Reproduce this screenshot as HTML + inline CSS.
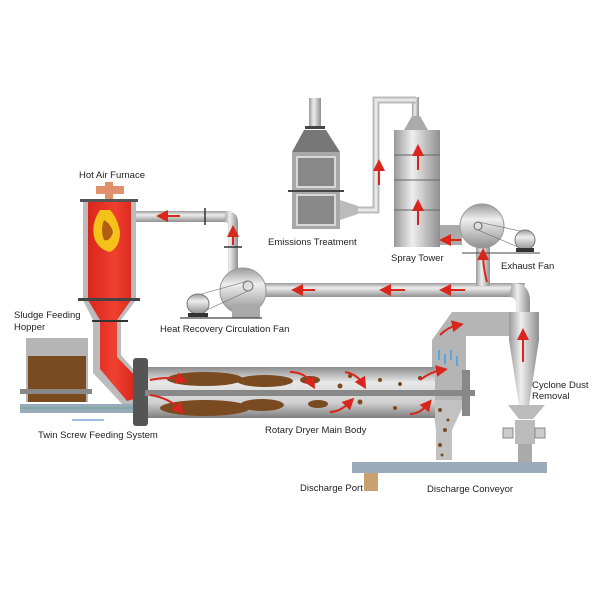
<!DOCTYPE html>
<html><head><meta charset="utf-8"><style>
html,body{margin:0;padding:0;background:#fff}
svg{display:block}
text{font-family:"Liberation Sans",sans-serif;font-size:9.5px;fill:#222}
</style></head><body>
<svg width="600" height="600" viewBox="0 0 600 600" xmlns="http://www.w3.org/2000/svg">
<defs>
<linearGradient id="pv" x1="0" y1="0" x2="0" y2="1"><stop offset="0" stop-color="#9a9a9a"/><stop offset=".35" stop-color="#eee"/><stop offset="1" stop-color="#8f8f8f"/></linearGradient>
<linearGradient id="ph" x1="0" y1="0" x2="1" y2="0"><stop offset="0" stop-color="#999"/><stop offset=".4" stop-color="#eee"/><stop offset="1" stop-color="#8f8f8f"/></linearGradient>
<linearGradient id="dr" x1="0" y1="0" x2="0" y2="1"><stop offset="0" stop-color="#8c8c8c"/><stop offset=".3" stop-color="#e8e8e8"/><stop offset=".7" stop-color="#d0d0d0"/><stop offset="1" stop-color="#7f7f7f"/></linearGradient>
<linearGradient id="red" x1="0" y1="0" x2="1" y2="0"><stop offset="0" stop-color="#d8261c"/><stop offset=".5" stop-color="#f04030"/><stop offset="1" stop-color="#d02018"/></linearGradient>
<marker id="ah" markerWidth="6" markerHeight="6" refX="3" refY="3" orient="auto"><path d="M0 0 L6 3 L0 6z" fill="#d8261c"/></marker>
</defs>

<!-- long duct -->
<rect x="255" y="283" width="270" height="14" fill="url(#pv)"/>
<path d="M512 283 q18 0 18 18 v25 h-14 v-22 q0-7-7-7z" fill="url(#ph)"/>
<rect x="476" y="240" width="14" height="46" fill="url(#ph)"/>
<rect x="130" y="211" width="100" height="11" fill="url(#pv)"/>
<path d="M226 211 q12 0 12 12 v50 h-10 v-48 q0-3-4-3z" fill="url(#ph)"/>
<line x1="205" y1="208" x2="205" y2="225" stroke="#333" stroke-width="1.5"/>
<line x1="224" y1="247" x2="242" y2="247" stroke="#333" stroke-width="1.5"/>

<!-- heat recovery fan -->
<circle cx="243" cy="291" r="23" fill="url(#pv)" stroke="#999"/>
<rect x="232" y="305" width="28" height="13" fill="#aaa"/>
<circle cx="248" cy="286" r="5" fill="#ddd" stroke="#777"/>
<line x1="248" y1="281" x2="198" y2="295" stroke="#666" stroke-width=".6"/>
<line x1="248" y1="291" x2="198" y2="314" stroke="#666" stroke-width=".6"/>
<ellipse cx="198" cy="304" rx="11" ry="10" fill="url(#pv)" stroke="#777"/>
<rect x="188" y="313" width="20" height="4" fill="#333"/>
<line x1="180" y1="318" x2="262" y2="318" stroke="#444" stroke-width="1.2"/>

<!-- furnace -->
<rect x="96" y="186" width="28" height="8" fill="#e0906a"/>
<rect x="105" y="182" width="8" height="18" fill="#e0906a"/>
<rect x="80" y="199" width="58" height="3" fill="#555"/>
<path d="M83 202 h53 v98 l-15 20 v35 l22 25 v25 l-20 0 l-30 -32 v-53 l-10 -20z" fill="#bbb"/>
<path d="M88 202 h43 v98 l-14 20 v37 l24 25 v15 l-14 4 l-27 -32 v-49 l-12 -20z" fill="url(#red)"/>
<path d="M100 210 q-10 15 -5 30 q5 10 15 12 q10 -5 10 -20 q-3 -15 -10 -22z" fill="#f5c21a"/>
<path d="M104 220 q-4 10 0 20 q6 2 9 -8 q-2 -8 -9 -12z" fill="#b35f10"/>
<rect x="78" y="298" width="62" height="3" fill="#444"/>
<rect x="92" y="320" width="36" height="2" fill="#333"/>

<!-- spray tower -->
<rect x="412" y="97" width="7" height="20" fill="url(#ph)"/>
<path d="M404 130 l8 -14 h8 l8 14z" fill="#aaa"/>
<rect x="394" y="130" width="46" height="117" fill="url(#ph)"/>
<g stroke="#666" stroke-width="1"><line x1="394" y1="155" x2="440" y2="155"/><line x1="394" y1="180" x2="440" y2="180"/><line x1="394" y1="210" x2="440" y2="210"/></g>
<rect x="440" y="225" width="22" height="20" fill="#aaa"/>
<path d="M416 100 h-40 v110 h-20" fill="none" stroke="#bbb" stroke-width="7"/>
<path d="M416 100 h-40 v110 h-20" fill="none" stroke="#e8e8e8" stroke-width="3"/>

<!-- emissions treatment -->
<rect x="309" y="98" width="12" height="30" fill="url(#ph)"/>
<rect x="305" y="126" width="20" height="3" fill="#444"/>
<path d="M292 152 l12 -22 h22 l14 22z" fill="#777"/>
<rect x="292" y="152" width="48" height="77" fill="#a8a8a8"/>
<rect x="297" y="157" width="38" height="30" fill="#888" stroke="#d8d8d8" stroke-width="2"/>
<rect x="297" y="195" width="38" height="30" fill="#888" stroke="#d8d8d8" stroke-width="2"/>
<rect x="288" y="190" width="56" height="2" fill="#444"/>
<path d="M340 200 l18 6 v8 l-18 6z" fill="#bbb"/>

<!-- exhaust fan -->
<circle cx="482" cy="226" r="22" fill="url(#pv)" stroke="#999"/>
<circle cx="478" cy="226" r="4" fill="#ddd" stroke="#666"/>
<line x1="478" y1="222" x2="525" y2="232" stroke="#666" stroke-width=".6"/>
<line x1="478" y1="230" x2="525" y2="250" stroke="#666" stroke-width=".6"/>
<ellipse cx="525" cy="240" rx="10" ry="10" fill="url(#pv)" stroke="#777"/>
<rect x="516" y="248" width="18" height="4" fill="#333"/>
<line x1="462" y1="253" x2="540" y2="253" stroke="#444"/>

<!-- hood + cyclone -->
<path d="M432 340 l20 -28 h62 v24 h-48 v64 h-34z" fill="#b5b5b5"/>
<path d="M432 400 h34 l-14 30 v30 h-16 v-30 z" fill="#c2c2c2"/>
<rect x="509" y="312" width="30" height="28" fill="url(#ph)"/>
<path d="M509 340 h30 l-10 65 h-10z" fill="url(#ph)"/>
<path d="M508 405 h37 l-12 14 h-14z" fill="#bbb"/>
<rect x="515" y="420" width="20" height="24" fill="#bbb"/>
<rect x="503" y="428" width="10" height="10" fill="#ccc" stroke="#888"/>
<rect x="535" y="428" width="10" height="10" fill="#ccc" stroke="#888"/>
<rect x="518" y="444" width="14" height="18" fill="#aaa"/>
<g fill="#5aa6e0"><rect x="438" y="350" width="2" height="10"/><rect x="444" y="354" width="2" height="10"/><rect x="450" y="350" width="2" height="10"/><rect x="456" y="356" width="2" height="10"/></g>

<!-- hopper & screws -->
<rect x="26" y="338" width="62" height="64" fill="#b5b5b5"/>
<rect x="28" y="356" width="58" height="46" fill="#7a4a20"/>
<rect x="20" y="389" width="72" height="5" fill="#888"/>
<rect x="20" y="404" width="135" height="9" fill="#9ab"/>
<line x1="20" y1="408" x2="155" y2="408" stroke="#6a8" stroke-width="1"/>
<line x1="72" y1="420" x2="104" y2="420" stroke="#3a7bc8" stroke-width="1"/>

<!-- dryer -->
<rect x="145" y="367" width="290" height="51" fill="url(#dr)"/>
<rect x="133" y="358" width="15" height="68" rx="3" fill="#555"/>
<rect x="145" y="390" width="330" height="6" fill="#888"/>
<rect x="462" y="370" width="8" height="46" fill="#888"/>
<g fill="#7a4a20">
<ellipse cx="205" cy="379" rx="38" ry="7"/><ellipse cx="205" cy="408" rx="45" ry="8"/>
<ellipse cx="265" cy="381" rx="28" ry="6"/><ellipse cx="262" cy="405" rx="22" ry="6"/>
<ellipse cx="310" cy="380" rx="10" ry="4"/><ellipse cx="318" cy="404" rx="10" ry="4"/>
<circle cx="340" cy="386" r="2.5"/><circle cx="350" cy="376" r="2"/><circle cx="360" cy="402" r="2.5"/><circle cx="380" cy="380" r="2"/><circle cx="400" cy="384" r="2"/><circle cx="395" cy="408" r="2"/><circle cx="420" cy="378" r="2"/>
<circle cx="440" cy="410" r="2"/><circle cx="445" cy="430" r="2"/><circle cx="440" cy="445" r="2"/><circle cx="448" cy="420" r="1.5"/><circle cx="442" cy="455" r="1.5"/>
</g>
<g stroke="#d8261c" stroke-width="2" fill="none" marker-end="url(#ah)">
<path d="M150 380 q20 -4 32 0"/><path d="M150 395 q20 3 30 15"/><path d="M290 372 q15 0 22 12"/><path d="M345 372 q12 2 18 12"/>
<path d="M330 412 q10 0 20 -10"/><path d="M410 414 q10 0 18 -10"/><path d="M420 380 q10 -8 22 -10"/><path d="M440 335 q8 -8 18 -10"/>
<path d="M180 216 h-18"/><path d="M233 245 v-14"/><path d="M315 290 h-18"/><path d="M405 290 h-20"/><path d="M465 290 h-20"/>
<path d="M418 170 v-20"/><path d="M418 225 v-20"/><path d="M379 185 v-20"/><path d="M523 362 v-28"/>
<path d="M487 282 q-4 -15 -4 -28"/><path d="M461 240 h-16"/>
</g>

<!-- discharge conveyor -->
<rect x="352" y="462" width="195" height="11" fill="#9ab"/>
<rect x="364" y="473" width="14" height="18" fill="#c9a070"/>

<text x="79" y="178">Hot Air Furnace</text>
<text x="268" y="245">Emissions Treatment</text>
<text x="391" y="261">Spray Tower</text>
<text x="501" y="269">Exhaust Fan</text>
<text x="14" y="318">Sludge Feeding</text>
<text x="14" y="330">Hopper</text>
<text x="160" y="332">Heat Recovery Circulation Fan</text>
<text x="532" y="388">Cyclone Dust</text>
<text x="532" y="399">Removal</text>
<text x="38" y="438">Twin Screw Feeding System</text>
<text x="265" y="433">Rotary Dryer Main Body</text>
<text x="300" y="491">Discharge Port</text>
<text x="427" y="492">Discharge Conveyor</text>
</svg>
</body></html>
